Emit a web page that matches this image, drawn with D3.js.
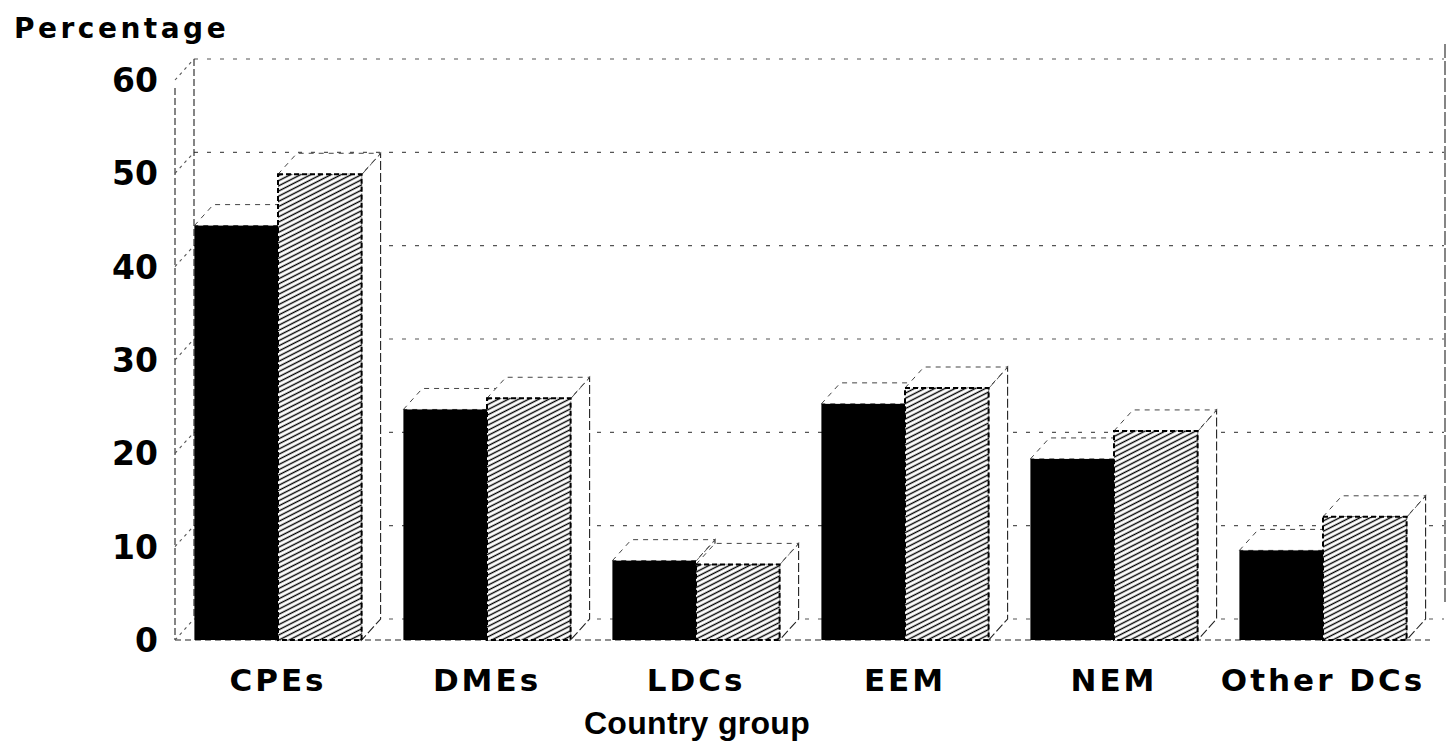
<!DOCTYPE html>
<html>
<head>
<meta charset="utf-8">
<script src="https://cdn.jsdelivr.net/npm/d3@7"></script>
<style>
  body { margin: 0; background: #fff; }
  text { font-family: "DejaVu Sans", sans-serif; font-weight: bold; fill: #000; }
</style>
</head>
<body>
<div id="chart"></div>
<script>
// data
var groups = ["CPEs", "DMEs", "LDCs", "EEM", "NEM", "Other DCs"];
var seriesA = [44.4, 24.7, 8.5, 25.3, 19.4, 9.6];   // solid black bars
var seriesB = [49.9, 25.9, 8.1, 27.0, 22.4, 13.2];  // hatched bars
var yTicks = [0, 10, 20, 30, 40, 50, 60];

var W = 1447, H = 748;
var depth = { dx: 19, dy: -21 };

var svg = d3.select("#chart").append("svg")
    .attr("width", W)
    .attr("height", H);

// hatch pattern
var pat = svg.append("defs").append("pattern")
    .attr("id", "hatch")
    .attr("patternUnits", "userSpaceOnUse")
    .attr("width", 8).attr("height", 4.6)
    .attr("patternTransform", "rotate(-27)");
pat.append("rect").attr("width", 8).attr("height", 4.6).attr("fill", "#fff");
pat.append("line")
    .attr("x1", 0).attr("y1", 2.3).attr("x2", 8).attr("y2", 2.3)
    .attr("stroke", "#000").attr("stroke-width", 1.4);

var y = d3.scaleLinear().domain([0, 60]).range([640, 80]);
var x = d3.scaleBand().domain(groups).range([173.5, 1427.5])
    .paddingInner(0.2).paddingOuter(0.1);
var xs = d3.scaleBand().domain([0, 1]).range([0, x.bandwidth()]);

var axisX = 175;
var dashStyle = function(sel, dash, col) {
    sel.attr("stroke", col || "#222").attr("stroke-width", 1.1)
       .attr("stroke-dasharray", dash || "6,4").attr("fill", "none");
};

// back wall gridlines
svg.append("g").selectAll("line").data(yTicks).enter().append("line")
    .attr("x1", axisX + depth.dx).attr("x2", W - 3)
    .attr("y1", function(d) { return y(d) + depth.dy; })
    .attr("y2", function(d) { return y(d) + depth.dy; })
    .call(dashStyle, "4,9", "#555");

// back wall left and right edges
svg.append("line")
    .attr("x1", axisX + depth.dx).attr("x2", axisX + depth.dx)
    .attr("y1", y(60) + depth.dy).attr("y2", y(0) + depth.dy)
    .call(dashStyle, "7,3");
svg.append("line")
    .attr("x1", W - 2).attr("x2", W - 2)
    .attr("y1", y(60) + depth.dy - 15).attr("y2", y(0) + depth.dy - 15)
    .call(dashStyle, "14,3");

// front axis + floor
svg.append("line")
    .attr("x1", axisX).attr("x2", axisX)
    .attr("y1", y(60) + 8).attr("y2", y(0))
    .call(dashStyle, "7,3");
svg.append("line")
    .attr("x1", axisX).attr("x2", 1430)
    .attr("y1", y(0)).attr("y2", y(0))
    .call(dashStyle, "6,4");
svg.append("g").selectAll("line").data(yTicks).enter().append("line")
    .attr("x1", axisX).attr("x2", axisX + depth.dx)
    .attr("y1", function(d) { return y(d); })
    .attr("y2", function(d) { return y(d) + depth.dy; })
    .call(dashStyle, "3,4", "#555");

// y tick labels
svg.append("g").selectAll("text").data(yTicks).enter().append("text")
    .attr("x", 158)
    .attr("y", function(d) { return y(d); })
    .attr("dy", "0.36em")
    .attr("text-anchor", "end")
    .style("font-size", "33px")
    .text(function(d) { return d; });

// 3d boxes
function drawBox(g, x0, x1, v, fill) {
    var yt = y(v), yb = y(0), dx = depth.dx, dy = depth.dy;
    g.append("polygon")
        .attr("points", [[x1, yt], [x1 + dx, yt + dy], [x1 + dx, yb + dy], [x1, yb]].join(" "))
        .attr("fill", "#fff").attr("stroke", "#222").attr("stroke-width", 1.1)
        .attr("stroke-dasharray", "9,3");
    g.append("polygon")
        .attr("points", [[x0, yt], [x0 + dx, yt + dy], [x1 + dx, yt + dy], [x1, yt]].join(" "))
        .attr("fill", "#fff").attr("stroke", "#444").attr("stroke-width", 1)
        .attr("stroke-dasharray", "5,5");
    var r = g.append("rect")
        .attr("x", x0).attr("y", yt)
        .attr("width", x1 - x0).attr("height", yb - yt)
        .attr("fill", fill);
    if (fill !== "#000") {
        r.attr("stroke", "#000").attr("stroke-width", 2).attr("stroke-dasharray", "5,3");
    }
}

var gBars = svg.append("g");
groups.forEach(function(k, i) {
    var g = gBars.append("g");
    var bx = x(k);
    drawBox(g, bx + xs(0), bx + xs(0) + xs.bandwidth(), seriesA[i], "#000");
    drawBox(g, bx + xs(1), bx + xs(1) + xs.bandwidth(), seriesB[i], "url(#hatch)");
});

// category labels
svg.append("g").selectAll("text").data(groups).enter().append("text")
    .attr("x", function(d) { return x(d) + x.bandwidth() / 2; })
    .attr("y", 691)
    .attr("text-anchor", "middle")
    .style("font-size", "31px")
    .style("letter-spacing", "3px")
    .text(function(d) { return d; });

// axis titles
svg.append("text")
    .attr("x", 697).attr("y", 734)
    .attr("text-anchor", "middle")
    .style("font-family", "'Liberation Sans', Arial, sans-serif")
    .style("font-size", "32px")
    .style("letter-spacing", "0.3px")
    .text("Country group");

svg.append("text")
    .attr("x", 14).attr("y", 38)
    .style("font-size", "28px")
    .style("letter-spacing", "3.5px")
    .text("Percentage");
</script>
</body>
</html>
